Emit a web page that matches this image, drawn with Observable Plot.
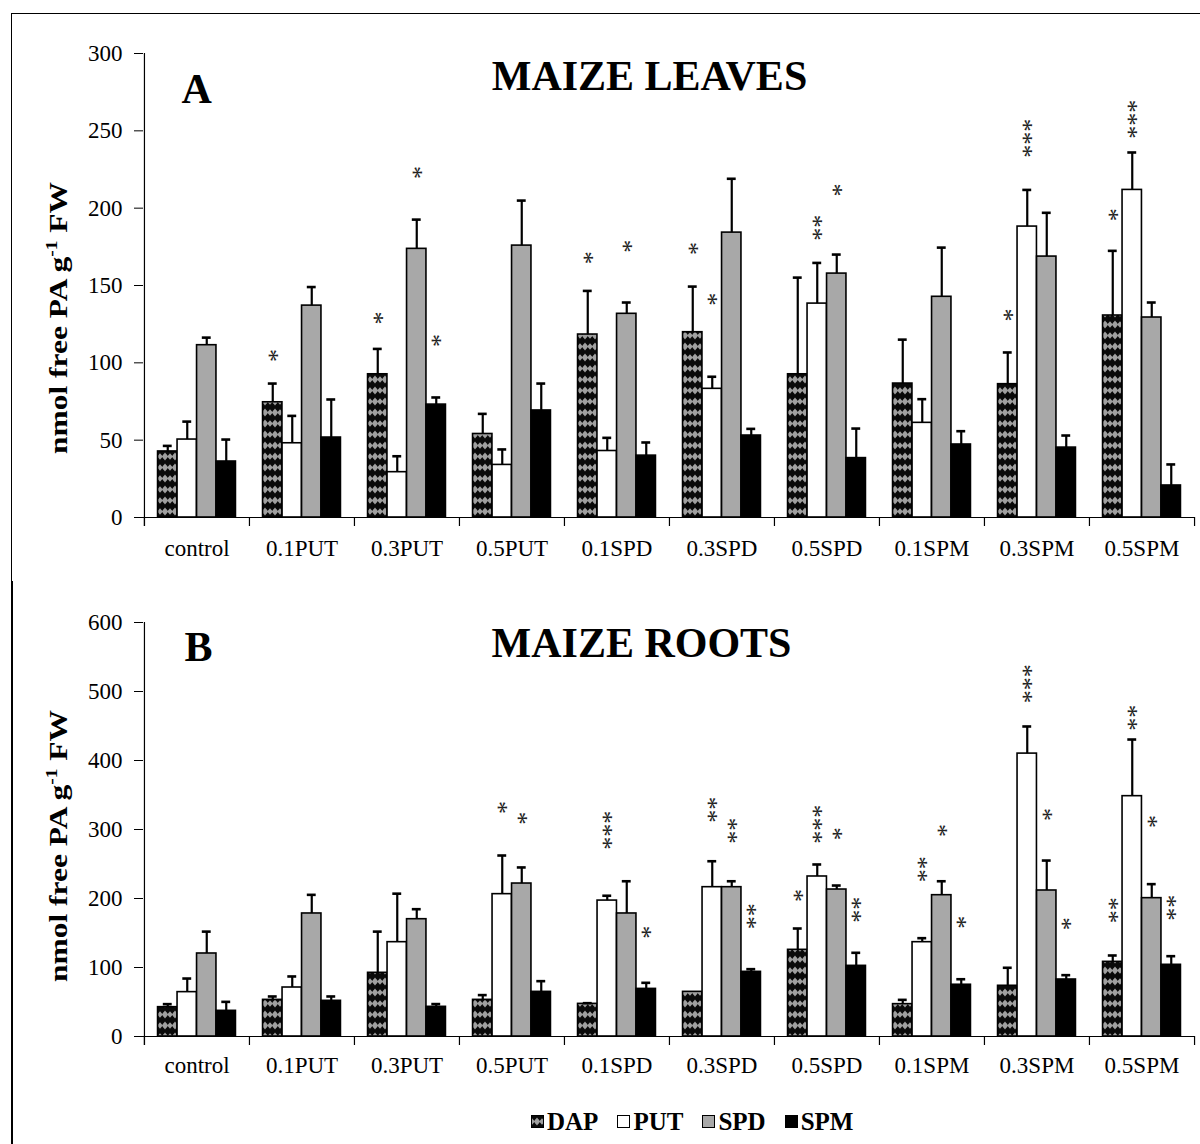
<!DOCTYPE html>
<html><head><meta charset="utf-8">
<script src="https://cdn.jsdelivr.net/npm/d3@7"></script>
<script src="https://cdn.jsdelivr.net/npm/@observablehq/plot@0.6"></script>
<style>
body{margin:0;background:#fff;}
#wrap{position:relative;width:1200px;height:1144px;overflow:hidden;font-family:"Liberation Serif","Times New Roman",serif;background:#fff;}
#wrap svg{display:block;position:absolute;left:0;}
.frame{position:absolute;background:#000;}
#legend{position:absolute;left:531px;top:1109px;display:flex;align-items:center;font-weight:bold;font-size:25px;line-height:25px;}
#legend .item{display:flex;align-items:center;margin-right:19px;}
#legend .sw{width:11px;height:11px;border:1px solid #000;margin-right:3px;}
</style></head><body>
<svg width="0" height="0" style="position:absolute">
<defs>
<pattern id="dap" patternUnits="userSpaceOnUse" width="10" height="11">
<rect width="10" height="11" fill="#0a0a0a"/>
<path d="M5 1.5 L8.2 5.5 L5 9.5 L1.8 5.5Z" fill="#a0a0a0"/>
<circle cx="5" cy="5.5" r="2.3" fill="#a0a0a0"/>
<path d="M0 2.2 L2.8 5.5 L0 8.8Z M10 2.2 L7.2 5.5 L10 8.8Z" fill="#a0a0a0"/>
</pattern>
</defs></svg>
<div id="wrap">
<div class="frame" style="left:11px;top:13px;width:1189px;height:1px"></div>
<div class="frame" style="left:11px;top:13px;width:1px;height:568px"></div>
<div class="frame" style="left:11px;top:581px;width:2px;height:563px"></div>
<div id="legend">
<div class="item"><div class="sw" style="background:#111;position:relative;overflow:hidden"><svg width="11" height="11" style="position:absolute;left:0;top:0"><rect width="11" height="11" fill="url(#dap)"/></svg></div><span>DAP</span></div>
<div class="item"><div class="sw" style="background:#fff"></div><span>PUT</span></div>
<div class="item"><div class="sw" style="background:#a8a8a8"></div><span>SPD</span></div>
<div class="item"><div class="sw" style="background:#000"></div><span>SPM</span></div>
</div>
</div>
<script>
const categories = ["control","0.1PUT","0.3PUT","0.5PUT","0.1SPD","0.3SPD","0.5SPD","0.1SPM","0.3SPM","0.5SPM"];
const series = ["DAP","PUT","SPD","SPM"];

// Panel A: maize leaves (nmol free PA g-1 FW)
const leavesDAP    = [42.7, 74.5, 92.6, 54.0, 118.3, 119.8, 92.6, 86.6, 86.2, 130.6];
const leavesDAPErr = [3.6, 12.1, 16.4, 13.0, 28.2, 29.5, 62.5, 28.4, 20.5, 41.8];
const leavesPUT    = [50.4, 48.0, 29.3, 34.0, 43.0, 83.2, 138.3, 61.2, 188.1, 211.8];
const leavesPUTErr = [11.6, 17.7, 10.3, 10.0, 8.5, 7.8, 26.3, 15.3, 23.7, 24.2];
const leavesSPD    = [111.4, 137.0, 173.7, 175.8, 131.7, 184.2, 157.7, 142.7, 168.7, 129.3];
const leavesSPDErr = [4.9, 12.0, 18.9, 29.1, 7.3, 34.8, 12.3, 31.8, 28.3, 9.7];
const leavesSPM    = [36.2, 51.7, 73.0, 69.2, 40.0, 53.0, 38.4, 47.2, 45.2, 20.7];
const leavesSPMErr = [14.2, 24.6, 4.6, 17.4, 8.5, 4.3, 19.1, 8.6, 7.8, 13.6];
// significance marks: [category, series, number of stars, level of top star]
const leavesStars = [
  ["0.1PUT","DAP",1,104.7], ["0.3PUT","DAP",1,129], ["0.3PUT","SPD",1,223], ["0.3PUT","SPM",1,114.4],
  ["0.1SPD","DAP",1,168], ["0.1SPD","SPD",1,175.4], ["0.3SPD","DAP",1,174], ["0.3SPD","PUT",1,141.1],
  ["0.5SPD","PUT",2,191.5], ["0.5SPD","SPD",1,211.8], ["0.3SPM","DAP",1,131], ["0.3SPM","PUT",3,253.6],
  ["0.5SPM","DAP",1,195.7], ["0.5SPM","PUT",3,265.9]
];

// Panel B: maize roots
const rootsDAP    = [42.5, 53.1, 92.3, 53.1, 47.3, 64.7, 125.6, 46.9, 73.5, 108.2];
const rootsDAPErr = [4.4, 4.9, 59.7, 6.9, 1.0, 0, 30.9, 6.2, 26.1, 9.2];
const rootsPUT    = [64.3, 71.0, 136.7, 206.3, 197.0, 216.4, 231.9, 136.7, 410.0, 348.3];
const rootsPUTErr = [19.7, 16.0, 70.3, 56.0, 7.0, 37.6, 17.4, 5.8, 39.3, 82.1];
const rootsSPD    = [120.3, 178.3, 170.0, 221.7, 178.3, 216.4, 213.0, 204.8, 211.6, 200.5];
const rootsSPDErr = [31.7, 27.0, 14.5, 23.3, 46.7, 8.6, 5.8, 20.2, 43.4, 20.3];
const rootsSPM    = [37.2, 51.7, 43.0, 64.7, 69.0, 93.7, 102.4, 75.0, 82.6, 103.9];
const rootsSPMErr = [13.0, 6.3, 4.0, 15.5, 8.8, 3.9, 18.9, 8.0, 6.3, 12.5];
const rootsStars = [
  ["0.5PUT","PUT",1,332], ["0.5PUT","SPD",1,316.4],
  ["0.1SPD","PUT",3,317.8], ["0.1SPD","SPM",1,151.2],
  ["0.3SPD","PUT",2,338], ["0.3SPD","SPD",2,307.7], ["0.3SPD","SPM",2,183.6],
  ["0.5SPD","DAP",1,204.3], ["0.5SPD","PUT",3,326.5], ["0.5SPD","SPD",1,293.8], ["0.5SPD","SPM",2,193.2],
  ["0.1SPM","PUT",2,251.7], ["0.1SPM","SPD",1,298.6], ["0.1SPM","SPM",1,165.7],
  ["0.3SPM","PUT",3,530], ["0.3SPM","SPD",1,321.7], ["0.3SPM","SPM",1,163.3],
  ["0.5SPM","DAP",2,192.3], ["0.5SPM","PUT",2,471.5], ["0.5SPM","SPD",1,311.6], ["0.5SPM","SPM",2,196]
];

const fills = ["url(#dap)", "#ffffff", "#a8a8a8", "#000000"];
const serif = '"Liberation Serif","Times New Roman",serif';

function makeRows(vals, errs) {
  const rows = [];
  series.forEach((s, j) => categories.forEach((c, i) => rows.push({category: c, series: s, value: vals[j][i], err: errs[j][i]})));
  return rows;
}

function panel({rows, stars, yMax, yStep, top, height, marginTop, marginBottom, xPad, title, letter, titleDx, titleDy, letterDx, letterDy, labelY}) {
  const W = 1200, ML = 143, MR = 6;
  const bw = (W - ML - MR) / categories.length;
  const barW = 19.5;
  const groupPad = (bw - series.length * barW) / 2;
  const H = height - marginTop - marginBottom;
  const starSize = 26;
  const marks = [];
  series.forEach((s, j) => {
    const data = rows.filter(d => d.series === s);
    const left = groupPad + barW * j;
    const right = bw - left - barW;
    const dx = left + barW / 2 - bw / 2;
    marks.push(Plot.barY(data, {x: "category", y: "value", fill: fills[j], stroke: "#000", strokeWidth: 1.6, insetLeft: left, insetRight: right}));
    const ed = data.filter(d => d.err > 0);
    marks.push(Plot.ruleX(ed, {x: "category", y1: "value", y2: d => d.value + d.err, dx, stroke: "#000", strokeWidth: 2.2}));
    marks.push(Plot.tickY(ed, {x: "category", y: d => d.value + d.err, dx, insetLeft: bw / 2 - 4.5, insetRight: bw / 2 - 4.5, stroke: "#000", strokeWidth: 2.6}));
    // stacked asterisks: one vertical run of text per bar
    const sd = stars.filter(d => d[1] === s).map(d => ({category: d[0], n: d[2], y: d[3]}));
    marks.push(Plot.text(sd, {x: "category", y: "y", text: d => "*".repeat(d.n), rotate: 90, textAnchor: "start", lineAnchor: "middle",
      dx: dx - 0.15 * starSize, dy: -0.25 * starSize, fontSize: starSize, fill: "#222", fontFamily: serif}));
  });
  marks.push(Plot.ruleY([0], {stroke: "#000", strokeWidth: 1.2}));
  marks.push(Plot.ruleX([categories[0]], {dx: -bw / 2, insetBottom: -9, stroke: "#000", strokeWidth: 1.2}));
  marks.push(Plot.ruleX(categories, {x: d => d, dx: -bw / 2, insetTop: H, insetBottom: -9, stroke: "#000", strokeWidth: 1.2}));
  marks.push(Plot.ruleX([categories[categories.length - 1]], {dx: bw / 2, insetTop: H, insetBottom: -9, stroke: "#000", strokeWidth: 1.2}));
  marks.push(Plot.text([title], {frameAnchor: "top", lineAnchor: "top", dx: titleDx, dy: titleDy, fontSize: 42, fontWeight: "bold", fontFamily: serif, fill: "#000"}));
  marks.push(Plot.text([letter], {frameAnchor: "top-left", textAnchor: "start", lineAnchor: "top", dx: letterDx, dy: letterDy, fontSize: 42, fontWeight: "bold", fontFamily: serif, fill: "#000"}));

  const svg = Plot.plot({
    width: W, height, marginTop, marginBottom, marginLeft: ML, marginRight: MR,
    style: {fontFamily: serif, fontSize: "23px", color: "#000", background: "transparent"},
    x: {type: "band", domain: categories, padding: 0, tickSize: 0, tickPadding: xPad, label: null},
    y: {domain: [0, yMax], ticks: d3.range(0, yMax + 1, yStep), tickSize: 9, tickPadding: 12, label: null},
    marks
  });
  svg.style.top = top + "px";
  const lab = d3.select(svg).append("text")
    .attr("transform", `translate(67,${labelY - top}) rotate(-90)`)
    .attr("text-anchor", "middle")
    .attr("textLength", 272)
    .attr("lengthAdjust", "spacingAndGlyphs")
    .attr("fill", "#000")
    .style("font-family", serif).style("font-weight", "bold").style("font-size", "26px");
  lab.append("tspan").text("nmol free PA g");
  lab.append("tspan").attr("dy", -10).style("font-size", "16px").text("-1");
  lab.append("tspan").attr("dy", 10).text(" FW");
  document.getElementById("wrap").appendChild(svg);
}

panel({
  rows: makeRows([leavesDAP, leavesPUT, leavesSPD, leavesSPM], [leavesDAPErr, leavesPUTErr, leavesSPDErr, leavesSPMErr]),
  stars: leavesStars, yMax: 300, yStep: 50, top: 0, height: 580, marginTop: 53, marginBottom: 63, xPad: 22,
  title: "MAIZE LEAVES", letter: "A", titleDx: -19.5, titleDy: 7, letterDx: 38, letterDy: 20, labelY: 318
});
panel({
  rows: makeRows([rootsDAP, rootsPUT, rootsSPD, rootsSPM], [rootsDAPErr, rootsPUTErr, rootsSPDErr, rootsSPMErr]),
  stars: rootsStars, yMax: 600, yStep: 100, top: 580, height: 500, marginTop: 42, marginBottom: 44, xPad: 20,
  title: "MAIZE ROOTS", letter: "B", titleDx: -27.5, titleDy: 5, letterDx: 41, letterDy: 9, labelY: 846
});
</script>
</body></html>
